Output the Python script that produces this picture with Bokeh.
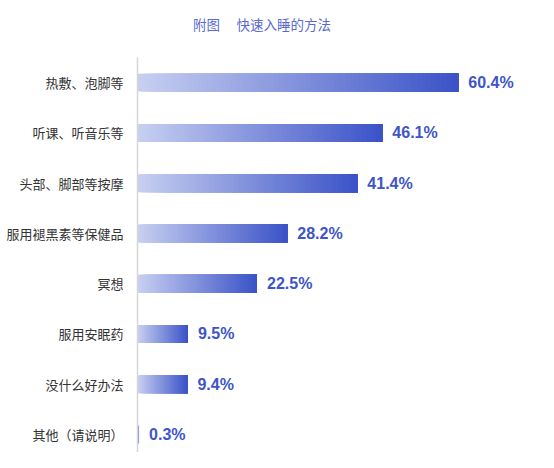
from bokeh.plotting import figure
from bokeh.models import Range1d, ColumnDataSource, FixedTicker, Div
from bokeh.layouts import column
from bokeh.core.properties import value
from bokeh.embed import file_html
from bokeh.resources import INLINE

title_text = "附图　 快速入睡的方法"
categories = ["热敷、泡脚等", "听课、听音乐等", "头部、脚部等按摩", "服用褪黑素等保健品",
              "冥想", "服用安眠药", "没什么好办法", "其他（请说明）"]
values = [60.4, 46.1, 41.4, 28.2, 22.5, 9.5, 9.4, 0.3]
value_labels = ["60.4%", "46.1%", "41.4%", "28.2%", "22.5%", "9.5%", "9.4%", "0.3%"]

c_start = (0xC8, 0xD0, 0xF1)
c_end = (0x3A, 0x52, 0xC7)

def mix(t):
    r = [round(a + (b - a) * t) for a, b in zip(c_start, c_end)]
    return "#%02x%02x%02x" % tuple(r)

n = len(categories)
pos = [n - 1 - k for k in range(n)]
x_end = 74.0
frame_w = 538 - 137 - 8
px_per_x = frame_w / x_end
y_start, y_end = -0.36, n - 0.5

head = Div(text=title_text, width=538, height=48, margin=(0, 0, 0, 0),
           styles={"font-family": "Noto Sans CJK SC", "font-size": "13.5px",
                   "color": "#5a6bd0", "line-height": "48px", "text-indent": "193px",
                   "white-space": "pre"})

p = figure(width=538, height=404, output_backend="svg", toolbar_location=None,
           y_range=Range1d(y_start, y_end),
           x_range=Range1d(0, x_end),
           min_border_left=137, min_border_right=8, min_border_top=9, min_border_bottom=0)
p.title.visible = False

ys, lefts, rights, colors = [], [], [], []
for y, v in zip(pos, values):
    N = max(1, min(80, int(v * px_per_x / 1.5)))
    for i in range(N):
        ys.append(y)
        lefts.append(v * i / N)
        rights.append(v)
        colors.append(mix((i + 0.5) / N))

p.hbar(y=ys, left=lefts, right=rights, height=0.358, fill_color=colors, line_color=None)

src = ColumnDataSource(dict(y=pos, x=values, t=value_labels))
p.text(x="x", y="y", text="t", source=src, x_offset=10, text_baseline="middle",
       text_align="left", text_font=value("Liberation Sans"), text_font_style="bold",
       text_font_size="16px", text_color="#3d55c8")

p.xaxis.visible = False
p.xgrid.visible = False
p.ygrid.visible = False
p.outline_line_color = None

ax = p.yaxis[0]
ax.ticker = FixedTicker(ticks=pos)
ax.major_label_overrides = {y: c for y, c in zip(pos, categories)}
ax.axis_line_color = "#d6d6d6"
ax.axis_line_width = 1.5
ax.major_tick_line_color = None
ax.minor_tick_line_color = None
ax.major_label_standoff = 8
ax.major_label_text_font = "Noto Sans CJK SC"
ax.major_label_text_font_size = "13px"
ax.major_label_text_color = "#333333"

layout = column(head, p, spacing=0)
open("out.html", "w").write(file_html(layout, INLINE))
